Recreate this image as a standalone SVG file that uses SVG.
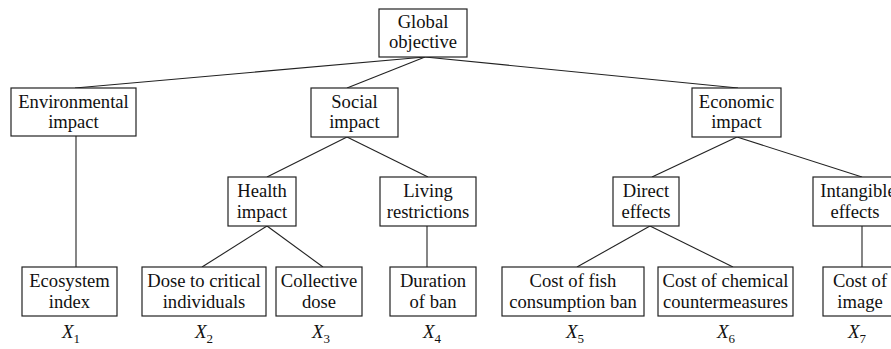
<svg xmlns="http://www.w3.org/2000/svg" width="891" height="349" viewBox="0 0 891 349">
<style>
.box{fill:#fff;stroke:#222;stroke-width:1.2}
.t{font-family:'Liberation Serif','DejaVu Serif','Times New Roman',serif;font-size:18.6px;fill:#111;text-anchor:middle}
.x{font-family:'Liberation Serif','DejaVu Serif','Times New Roman',serif;font-size:19px;fill:#111;font-style:italic}
.s{font-size:13px;font-style:normal}
.c line{stroke:#222;stroke-width:1.1}
</style>
<rect width="891" height="349" fill="#fff"/>
<g class="c" id="connectors">
<line x1="425" y1="57" x2="75" y2="88"/>
<line x1="425" y1="57" x2="347" y2="88"/>
<line x1="425" y1="57" x2="738" y2="88"/>
<line x1="76" y1="136" x2="76" y2="267"/>
<line x1="347" y1="137" x2="267" y2="177"/>
<line x1="347" y1="137" x2="428" y2="177"/>
<line x1="737" y1="137" x2="652" y2="177"/>
<line x1="737" y1="137" x2="862" y2="177"/>
<line x1="267" y1="226" x2="202" y2="267"/>
<line x1="267" y1="226" x2="323" y2="267"/>
<line x1="427" y1="226" x2="427" y2="267"/>
<line x1="650" y1="226" x2="577" y2="267"/>
<line x1="650" y1="226" x2="733" y2="267"/>
<line x1="862" y1="226" x2="862" y2="267"/>
</g>
<g id="global"><rect class="box" x="379" y="9" width="88" height="48"/><text class="t" x="423" y="28">Global</text><text class="t" x="423" y="48">objective</text></g>
<g id="environmental"><rect class="box" x="11" y="88" width="125" height="48"/><text class="t" x="73.5" y="108">Environmental</text><text class="t" x="73.5" y="128">impact</text></g>
<g id="social"><rect class="box" x="311" y="88" width="87" height="49"/><text class="t" x="354.5" y="108">Social</text><text class="t" x="354.5" y="128">impact</text></g>
<g id="economic"><rect class="box" x="692" y="88" width="89" height="49"/><text class="t" x="736.5" y="108">Economic</text><text class="t" x="736.5" y="128">impact</text></g>
<g id="health"><rect class="box" x="228" y="177" width="68" height="49"/><text class="t" x="262" y="197">Health</text><text class="t" x="262" y="218">impact</text></g>
<g id="living"><rect class="box" x="380" y="177" width="96" height="49"/><text class="t" x="428" y="197">Living</text><text class="t" x="428" y="218">restrictions</text></g>
<g id="direct"><rect class="box" x="613" y="177" width="66" height="49"/><text class="t" x="646" y="197">Direct</text><text class="t" x="646" y="218">effects</text></g>
<g id="intangible"><rect class="box" x="813" y="177" width="98" height="49"/><text class="t" x="858" y="197">Intangible</text><text class="t" x="855" y="218">effects</text></g>
<g id="ecosystem"><rect class="box" x="22" y="267" width="95" height="49"/><text class="t" x="69.5" y="287">Ecosystem</text><text class="t" x="69.5" y="308">index</text><text class="x" x="62" y="338">X<tspan class="s" dy="5">1</tspan></text></g>
<g id="dose"><rect class="box" x="142" y="267" width="124" height="49"/><text class="t" x="204" y="287">Dose to critical</text><text class="t" x="204" y="308">individuals</text><text class="x" x="195" y="338">X<tspan class="s" dy="5">2</tspan></text></g>
<g id="collective"><rect class="box" x="276" y="267" width="86" height="49"/><text class="t" x="319" y="287">Collective</text><text class="t" x="319" y="308">dose</text><text class="x" x="312" y="338">X<tspan class="s" dy="5">3</tspan></text></g>
<g id="duration"><rect class="box" x="390" y="267" width="86" height="49"/><text class="t" x="433" y="287">Duration</text><text class="t" x="433" y="308">of ban</text><text class="x" x="423" y="338">X<tspan class="s" dy="5">4</tspan></text></g>
<g id="fish"><rect class="box" x="502" y="267" width="142" height="49"/><text class="t" x="573" y="287">Cost of fish</text><text class="t" x="573" y="308">consumption ban</text><text class="x" x="566" y="338">X<tspan class="s" dy="5">5</tspan></text></g>
<g id="chemical"><rect class="box" x="658" y="267" width="135" height="49"/><text class="t" x="725.5" y="287">Cost of chemical</text><text class="t" x="725.5" y="308">countermeasures</text><text class="x" x="717" y="338">X<tspan class="s" dy="5">6</tspan></text></g>
<g id="image"><rect class="box" x="823" y="267" width="80" height="49"/><text class="t" x="860" y="287">Cost of</text><text class="t" x="860" y="308">image</text><text class="x" x="848" y="338">X<tspan class="s" dy="5">7</tspan></text></g>
</svg>
